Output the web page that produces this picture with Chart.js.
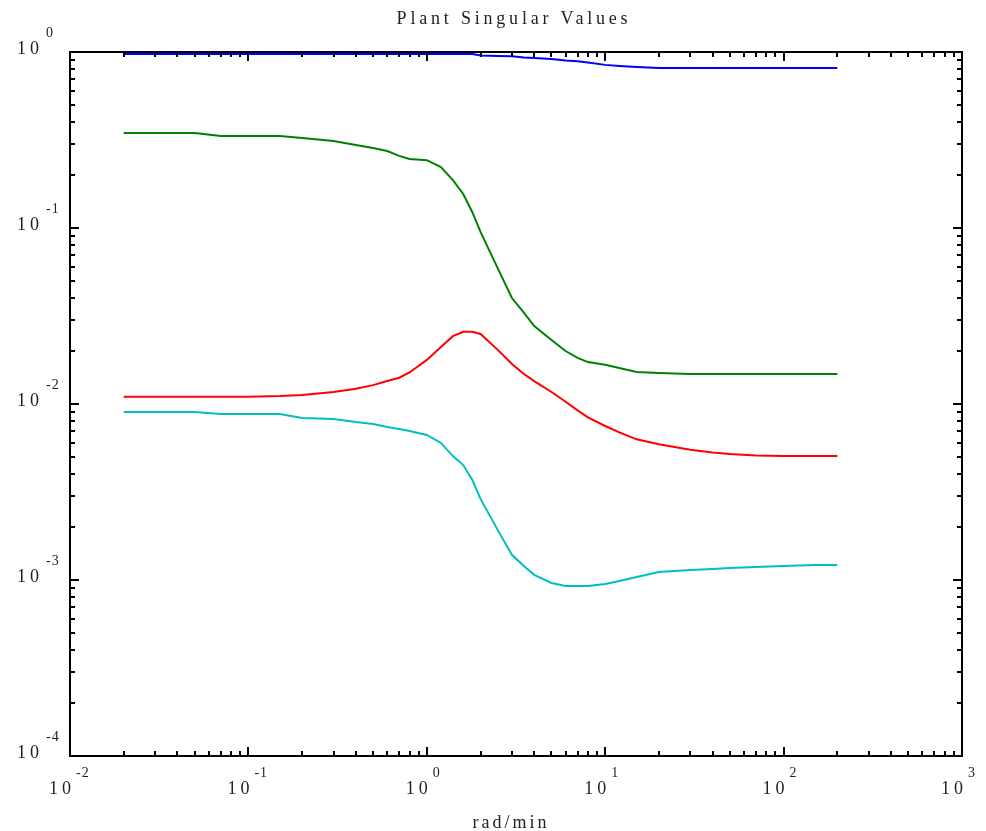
<!DOCTYPE html>
<html>
<head>
<meta charset="utf-8">
<script src="https://cdn.jsdelivr.net/npm/chart.js@4/dist/chart.umd.min.js"></script>
<style>
  html, body { margin: 0; padding: 0; background: #fff; }
  #wrap { width: 986px; height: 831px; position: relative; }
</style>
</head>
<body>
<div id="wrap"><canvas id="grafico"></canvas></div>
<script>
// frequencies (rad/min)
const freq = [0.02, 0.03, 0.05, 0.07, 0.1, 0.15, 0.2, 0.3, 0.4, 0.5, 0.6, 0.7, 0.8, 1.0,
  1.2, 1.4, 1.6, 1.8, 2.0, 2.5, 3, 3.5, 4, 5, 6, 7, 8, 10, 12, 15, 20, 30, 40, 50, 70, 100, 150, 200];

// singular values, one array per curve
const sv1 = [0.974, 0.974, 0.974, 0.974, 0.974, 0.974, 0.974, 0.974, 0.974, 0.974, 0.974, 0.974, 0.974, 0.974,
  0.974, 0.974, 0.974, 0.974, 0.955, 0.949, 0.945, 0.931, 0.925, 0.912, 0.895, 0.887, 0.872, 0.845, 0.833, 0.822,
  0.811, 0.811, 0.811, 0.811, 0.811, 0.811, 0.811, 0.811];
const sv2 = [0.347, 0.347, 0.347, 0.333, 0.333, 0.333, 0.325, 0.312, 0.296, 0.285, 0.274, 0.257, 0.247, 0.243,
  0.222, 0.187, 0.156, 0.123, 0.095, 0.059, 0.040, 0.033, 0.0277, 0.0231, 0.0200, 0.0183, 0.0173, 0.0167, 0.0160, 0.0152,
  0.0150, 0.0148, 0.0148, 0.0148, 0.0148, 0.0148, 0.0148, 0.0148];
const sv3 = [0.0110, 0.0110, 0.0110, 0.0110, 0.0110, 0.0111, 0.01125, 0.0117, 0.0122, 0.0128, 0.0135, 0.0141, 0.0151, 0.0178,
  0.0211, 0.0243, 0.0257, 0.0257, 0.0250, 0.0203, 0.0169, 0.0148, 0.0135, 0.0117, 0.0103, 0.0092, 0.0084, 0.0075, 0.0069, 0.0063,
  0.0059, 0.0055, 0.0053, 0.0052, 0.0051, 0.00506, 0.00506, 0.00506];
const sv4 = [0.00901, 0.00901, 0.00901, 0.00877, 0.00877, 0.00877, 0.00832, 0.00822, 0.00790, 0.00770, 0.00740, 0.00721, 0.00702, 0.00667,
  0.00601, 0.00506, 0.00450, 0.00370, 0.00289, 0.00192, 0.00139, 0.00120, 0.00107, 0.000962, 0.000925, 0.000925, 0.000925, 0.000949, 0.000987, 0.00104,
  0.00111, 0.00114, 0.001155, 0.00117, 0.001186, 0.00120, 0.001217, 0.001217];

const colores = ['#0000ff', '#008000', '#ff0000', '#00bfbf'];

// axis decades (exponents of 10) used for tick labels
const xExp = [-2, -1, 0, 1, 2, 3];
const yExp = [0, -1, -2, -3, -4];

const titulo = 'Plant Singular Values';
const xTitulo = 'rad/min';

function serie(ys, i) {
  return {
    data: freq.map(function(f, k) { return { x: f, y: ys[k] }; }),
    borderColor: colores[i],
    borderWidth: 2,
    pointRadius: 0,
    tension: 0,
    fill: false
  };
}

// draws frame, inward ticks, 10^n labels and titles
const ejes = {
  id: 'ejes',
  afterDraw: function(chart) {
    const ctx = chart.ctx;
    const a = chart.chartArea;
    const sx = chart.scales.x, sy = chart.scales.y;
    ctx.save();
    ctx.strokeStyle = '#000';
    ctx.fillStyle = '#000';
    ctx.lineWidth = 2;
    ctx.strokeRect(a.left, a.top, a.right - a.left, a.bottom - a.top);

    ctx.beginPath();
    xExp.forEach(function(e, i) {
      for (let m = 1; m <= 9; m++) {
        const v = m * Math.pow(10, e);
        if (v > 1000) break;
        const px = Math.round(sx.getPixelForValue(v));
        const len = m === 1 ? 9 : 5;
        ctx.moveTo(px, a.bottom); ctx.lineTo(px, a.bottom - len);
        ctx.moveTo(px, a.top); ctx.lineTo(px, a.top + len);
      }
    });
    yExp.forEach(function(e) {
      for (let m = 1; m <= 9; m++) {
        const v = m * Math.pow(10, e);
        if (v > 1) break;
        const py = Math.round(sy.getPixelForValue(v));
        const len = m === 1 ? 9 : 5;
        ctx.moveTo(a.left, py); ctx.lineTo(a.left + len, py);
        ctx.moveTo(a.right, py); ctx.lineTo(a.right - len, py);
      }
    });
    ctx.stroke();

    ctx.textBaseline = 'alphabetic';
    ctx.fillStyle = '#222';
    function base(x, y) {
      ctx.font = '18px "Liberation Serif"';
      ctx.textAlign = 'left';
      ctx.letterSpacing = '4px';
      ctx.fillText('10', x, y);
    }
    function expo(t, x, y) {
      ctx.font = '14px "Liberation Serif"';
      ctx.textAlign = 'left';
      ctx.letterSpacing = '1px';
      ctx.fillText(t, x, y);
    }
    xExp.forEach(function(e) {
      const px = sx.getPixelForValue(Math.pow(10, e));
      base(px - 21, a.bottom + 38);
      expo(String(e), px + 6, a.bottom + 21);
    });
    yExp.forEach(function(e) {
      const py = sy.getPixelForValue(Math.pow(10, e));
      base(a.left - 53, py + 2);
      expo(String(e), a.left - 24, py - 15);
    });

    ctx.font = '18px "Liberation Serif"';
    ctx.letterSpacing = '3.8px';
    ctx.textAlign = 'center';
    ctx.fillText(titulo, 514, 24);
    ctx.letterSpacing = '3px';
    ctx.fillText(xTitulo, 511, 828);
    ctx.restore();
  }
};

const grafico = new Chart(document.getElementById('grafico').getContext('2d'), {
  type: 'line',
  data: { datasets: [serie(sv1, 0), serie(sv2, 1), serie(sv3, 2), serie(sv4, 3)] },
  options: {
    responsive: true,
    maintainAspectRatio: false,
    animation: false,
    layout: { padding: { left: 70, right: 24, top: 52, bottom: 75 } },
    plugins: { legend: { display: false }, tooltip: { enabled: false } },
    scales: {
      x: { type: 'logarithmic', min: 0.01, max: 1000, display: false },
      y: { type: 'logarithmic', min: 0.0001, max: 1, display: false }
    }
  },
  plugins: [ejes]
});
</script>
</body>
</html>
